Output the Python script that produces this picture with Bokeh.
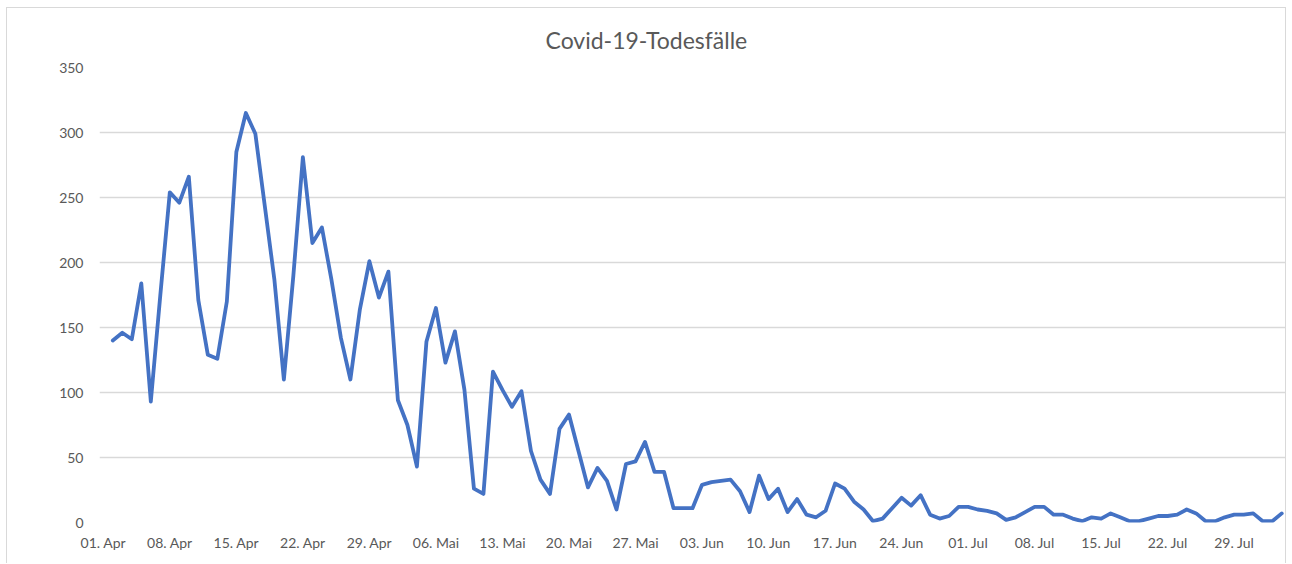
import pandas as pd
from bokeh.plotting import figure
from bokeh.models import Range1d, FixedTicker, Title
from bokeh.embed import file_html
from bokeh.resources import INLINE

# ---- data -------------------------------------------------------------
start_date = "2020-04-02"
deaths = [
    140, 146, 141, 184, 93, 175, 254, 246, 266, 171, 129, 126, 170, 285, 315,
    299, 243, 187, 110, 190, 281, 215, 227, 187, 142, 110, 164, 201, 173, 193,
    94, 75, 43, 139, 165, 123, 147, 102, 26, 22, 116, 102, 89, 101, 55,
    33, 22, 72, 83, 55, 27, 42, 32, 10, 45, 47, 62, 39, 39, 11,
    11, 11, 29, 31, 32, 33, 24, 8, 36, 18, 26, 8, 18, 6, 4,
    9, 30, 26, 16, 10, 1, 3, 11, 19, 13, 21, 6, 3, 5, 12,
    12, 10, 9, 7, 2, 4, 8, 12, 12, 6, 6, 3, 1, 4, 3,
    7, 4, 1, 1, 3, 5, 5, 6, 10, 7, 1, 1, 4, 6, 6,
    7, 1, 1, 7,
]
tick_labels = ["01. Apr", "08. Apr", "15. Apr", "22. Apr", "29. Apr",
               "06. Mai", "13. Mai", "20. Mai", "27. Mai", "03. Jun",
               "10. Jun", "17. Jun", "24. Jun", "01. Jul", "08. Jul",
               "15. Jul", "22. Jul", "29. Jul"]
y_ticks = [0, 50, 100, 150, 200, 250, 300, 350]
title_text = "Covid-19-Todesfälle"

# ---- derived positions (days since 01 Apr) ----------------------------
axis_origin = pd.Timestamp("2020-04-01")
dates = pd.date_range(start_date, periods=len(deaths), freq="D")
x_days = [(d - axis_origin).days for d in dates]
tick_pos = [7 * i for i in range(len(tick_labels))]

FONT = "Lato"
GREY = "#595959"

p = figure(width=1280, height=556, output_backend="svg", toolbar_location=None,
           x_range=Range1d(-0.4, 124.5), y_range=Range1d(0, 350),
           min_border_left=92, min_border_right=1, min_border_top=59,
           min_border_bottom=42)
p.outline_line_color = None
p.background_fill_color = "white"
p.border_fill_color = "white"

t = Title(text=title_text, align="left", offset=446, standoff=28,
          text_font=FONT, text_font_size="23px", text_font_style="normal",
          text_color=GREY)
p.title = t

p.line(x_days, deaths, line_color="#4472C4", line_width=3.8,
       line_join="round", line_cap="round")

# axes
p.xaxis.ticker = FixedTicker(ticks=tick_pos)
p.xaxis.major_label_overrides = {tp: lab for tp, lab in zip(tick_pos, tick_labels)}
p.yaxis.ticker = FixedTicker(ticks=y_ticks)
for ax in (p.xaxis, p.yaxis):
    ax.axis_line_color = None
    ax.major_tick_line_color = None
    ax.minor_tick_line_color = None
    ax.major_tick_out = 0
    ax.major_tick_in = 0
    ax.minor_tick_out = 0
    ax.major_label_text_font = FONT
    ax.major_label_text_font_size = "14px"
    ax.major_label_text_color = GREY
p.yaxis.major_label_standoff = 16
p.xaxis.major_label_standoff = 11

p.xgrid.grid_line_color = None
p.ygrid.grid_line_color = "#d9d9d9"
p.ygrid.grid_line_width = 1.3

p.styles = {"margin-left": "6px", "margin-top": "7px",
            "border-left": "1px solid #d9d9d9", "border-top": "1px solid #d9d9d9",
            "border-right": "1px solid #d9d9d9"}

open("out.html", "w").write(file_html(p, INLINE))
